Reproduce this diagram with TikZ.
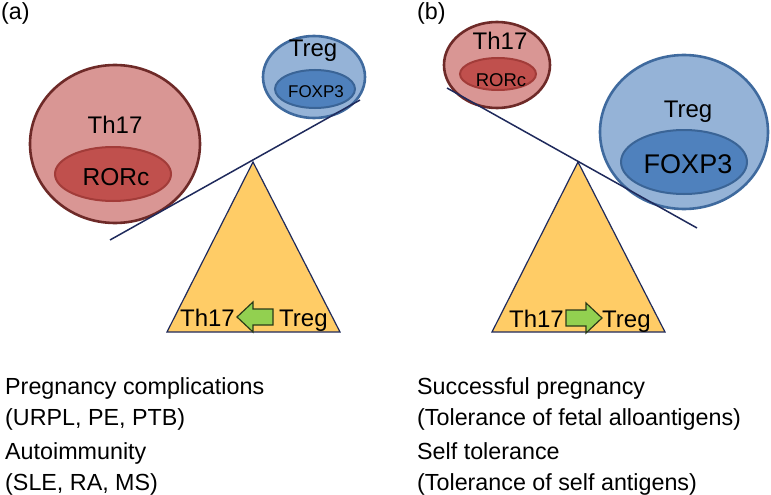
\documentclass[tikz,border=0pt]{standalone}
\usepackage{fontspec}
\setmainfont{Liberation Sans}
\usetikzlibrary{shapes.geometric}
\definecolor{redfill}{HTML}{D99694}
\definecolor{redborder}{HTML}{6E2A28}
\definecolor{redinner}{HTML}{C0504D}
\definecolor{redinnerborder}{HTML}{A23C39}
\definecolor{bluefill}{HTML}{95B3D7}
\definecolor{blueborder}{HTML}{3F6A9E}
\definecolor{blueinner}{HTML}{4F81BD}
\definecolor{blueinnerborder}{HTML}{3A6496}
\definecolor{trifill}{HTML}{FFCC66}
\definecolor{navy}{HTML}{1F2A5C}
\definecolor{arrowgreen}{HTML}{92D050}
\definecolor{arrowborder}{HTML}{2A3A18}
\tikzset{
  redcell/.style={ellipse, draw=redborder, fill=redfill, line width=2.6pt, inner sep=0pt},
  redcore/.style={ellipse, draw=redinnerborder, fill=redinner, line width=2pt, inner sep=0pt},
  bluecell/.style={ellipse, draw=blueborder, fill=bluefill, line width=2.6pt, inner sep=0pt},
  bluecore/.style={ellipse, draw=blueinnerborder, fill=blueinner, line width=2pt, inner sep=0pt},
  fulcrum/.style={fill=trifill, draw=navy, line width=1.2pt, line join=miter},
  beam/.style={draw=navy, line width=1.5pt},
  greenarrow/.style={fill=arrowgreen, draw=arrowborder, line width=1.2pt, line join=miter},
  lbl/.style={inner sep=0pt, anchor=base, font=\fontsize{24}{28}\selectfont},
  caption/.style={inner sep=0pt, anchor=base west, font=\fontsize{23.3}{28}\selectfont}
}
\begin{document}
\begin{tikzpicture}[x=1pt,y=-1pt]
\useasboundingbox (0,0) rectangle (771,495);
% ---------- panel (a) ----------
\node[caption] (la) at (1,20) {(a)};
\node[redcell, minimum width=170pt, minimum height=158pt] (a17) at (115,144) {};
\node[redcore, minimum width=116pt, minimum height=54pt] (a17c) at (113,174) {};
\node[lbl] (a17t) at (115,133) {Th17};
\node[lbl, font=\fontsize{24.5}{28}\selectfont] (a17ct) at (116,185) {RORc};
\node[bluecell, minimum width=102pt, minimum height=82pt] (atr) at (314,77) {};
\node[bluecore, minimum width=80pt, minimum height=38pt] (atrc) at (315,89) {};
\node[lbl] (atrt) at (313,57) {Treg};
\node[lbl, font=\fontsize{17}{20}\selectfont] (atrct) at (316,97) {FOXP3};
\coordinate (aapex) at (253,162);
\coordinate (abl) at (167,332);
\coordinate (abr) at (340,332);
\draw[fulcrum] (aapex) -- (abr) -- (abl) -- cycle;
\coordinate (abeamL) at (110,240);
\coordinate (abeamR) at (360,100);
\draw[beam] (abeamL) -- (abeamR);
\node[lbl, anchor=base east] (abase17) at (235,326) {Th17};
\node[lbl, anchor=base west] (abasetr) at (279,326) {Treg};
\coordinate (aarr) at (237,317);
\draw[greenarrow] (aarr) -- ++(16,-15) -- ++(0,7) -- ++(20,0) -- ++(0,16) -- ++(-20,0) -- ++(0,7) -- cycle;
\node[caption] (ac1) at (5,394) {Pregnancy complications};
\node[caption] (ac2) at (5,425) {(URPL, PE, PTB)};
\node[caption] (ac3) at (5,459) {Autoimmunity};
\node[caption] (ac4) at (5,490) {(SLE, RA, MS)};
% ---------- panel (b) ----------
\node[caption] (lb) at (417,20) {(b)};
\node[redcell, minimum width=106pt, minimum height=86pt] (b17) at (497,65) {};
\node[redcore, minimum width=76pt, minimum height=32pt] (b17c) at (498,74) {};
\node[lbl] (b17t) at (500,50) {Th17};
\node[lbl, font=\fontsize{18.5}{22}\selectfont] (b17ct) at (501,86) {RORc};
\node[bluecell, minimum width=168pt, minimum height=154pt] (btr) at (684,132) {};
\node[bluecore, minimum width=126pt, minimum height=64pt] (btrc) at (684,162) {};
\node[lbl] (btrt) at (688,117) {Treg};
\node[lbl, font=\fontsize{27}{30}\selectfont] (btrct) at (688,173) {FOXP3};
\coordinate (bapex) at (578,162);
\coordinate (bbl) at (492,332);
\coordinate (bbr) at (665,332);
\draw[fulcrum] (bapex) -- (bbr) -- (bbl) -- cycle;
\coordinate (bbeamL) at (447,88);
\coordinate (bbeamR) at (697,228);
\draw[beam] (bbeamL) -- (bbeamR);
\node[lbl, anchor=base east] (bbase17) at (564,327) {Th17};
\node[lbl, anchor=base west] (bbasetr) at (602,327) {Treg};
\coordinate (barr) at (602,318);
\draw[greenarrow] (barr) -- ++(-16,-15) -- ++(0,7) -- ++(-20,0) -- ++(0,16) -- ++(20,0) -- ++(0,7) -- cycle;
\node[caption] (bc1) at (417,394) {Successful pregnancy};
\node[caption] (bc2) at (417,425) {(Tolerance of fetal alloantigens)};
\node[caption] (bc3) at (417,459) {Self tolerance};
\node[caption] (bc4) at (417,490) {(Tolerance of self antigens)};
\end{tikzpicture}
\end{document}
